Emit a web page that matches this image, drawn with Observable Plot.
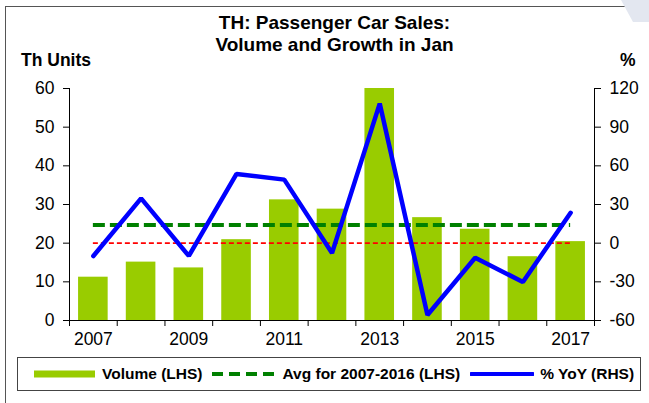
<!DOCTYPE html>
<html>
<head>
<meta charset="utf-8">
<script src="https://cdn.jsdelivr.net/npm/d3@7"></script>
<script src="https://cdn.jsdelivr.net/npm/@observablehq/plot@0.6"></script>
<style>
  html, body { margin: 0; padding: 0; background: #fff; }
  body { width: 649px; height: 403px; overflow: hidden; font-family: "Liberation Sans", Arial, sans-serif; }
  #wrap { position: relative; width: 649px; height: 403px; }
  #wrap svg.chart { position: absolute; left: 0; top: 0; }
  .frame { position: absolute; left: 5px; top: 6px; width: 660px; height: 420px; border-left: 1.5px solid #555; border-top: 1.5px solid #555; }
  .corner { position: absolute; right: 0; top: 0; width: 40px; height: 22px; background: #e3e7f0; clip-path: polygon(30% 0, 100% 0, 100% 100%, 60% 100%); }
  .title { position: absolute; left: 0; width: 649px; top: 12px; text-align: center; font-weight: bold; font-size: 19px; line-height: 22px; color: #000; padding-left: 20px; box-sizing: border-box; }
  .lab { position: absolute; font-weight: bold; font-size: 17.5px; color: #000; }
  .legend { position: absolute; left: 17px; top: 357px; width: 624px; height: 34px; border: 1.5px solid #444; box-sizing: border-box; display: flex; align-items: center; font-weight: bold; font-size: 15.5px; color: #000; }
  .legend .item { display: flex; align-items: center; }
  .legend svg { display: block; }
</style>
</head>
<body>
<div id="wrap">
  <div class="frame"></div>
  <div class="corner"></div>
  <div class="title">TH: Passenger Car Sales:<br>Volume and Growth in Jan</div>
  <div class="lab" style="left:21px; top:50px;">Th Units</div>
  <div class="lab" style="left:620px; top:50px;">%</div>
  <div class="legend" id="legend"></div>
</div>
<script>
// ---- data ----
const years = [2007, 2008, 2009, 2010, 2011, 2012, 2013, 2014, 2015, 2016, 2017];
const volume = [11.2, 15.1, 13.6, 20.9, 31.2, 28.8, 60.0, 26.6, 23.6, 16.5, 20.4];
const yoy = [-10.0, 34.8, -9.9, 53.7, 49.3, -7.7, 108.3, -55.7, -11.3, -30.1, 23.6];
const avgLevel = [24.7];
const leftTicks = [0, 10, 20, 30, 40, 50, 60];
const rightTicks = [-60, -30, 0, 30, 60, 90, 120];
const labelYears = [2007, 2009, 2011, 2013, 2015, 2017];
const legendLabels = ["Volume (LHS)", "Avg for 2007-2016 (LHS)", "% YoY (RHS)"];

// right axis (-60..120) mapped onto left axis (0..60)
const toLeft = v => (v + 60) / 3;
const data = years.map((year, i) => ({year, vol: volume[i], yoy: yoy[i]}));
const x0 = years[0] - 0.5, x1 = years[years.length - 1] + 0.5;
const bounds = d3.range(x0, x1 + 0.01, 1);
const half = 0.31;

const chart = Plot.plot({
  width: 649,
  height: 403,
  marginLeft: 69,
  marginRight: 55,
  marginTop: 88,
  marginBottom: 83,
  style: {fontFamily: "'Liberation Sans', Arial, sans-serif", fontSize: "17.5px", color: "#000", background: "transparent"},
  x: {type: "linear", domain: [x0, x1]},
  y: {domain: [0, 60]},
  marks: [
    Plot.rectY(data, {x1: d => d.year - half, x2: d => d.year + half, y1: 0, y2: "vol", fill: "#99cc00"}),
    Plot.ruleY([toLeft(0)], {x1: years[0], x2: years[years.length - 1], stroke: "#ff0000", strokeWidth: 1.7, strokeDasharray: "5,3"}),
    Plot.ruleY(avgLevel, {x1: years[0], x2: years[years.length - 1], stroke: "#008000", strokeWidth: 4, strokeDasharray: "12,5"}),
    Plot.line(data, {x: "year", y: d => toLeft(d.yoy), stroke: "#0000ff", strokeWidth: 4.5, strokeLinejoin: "miter"}),
    Plot.ruleX([x0, x1], {y1: 0, y2: 60, stroke: "#000", strokeWidth: 1}),
    Plot.ruleY([0], {x1: x0, x2: x1, stroke: "#000", strokeWidth: 1}),
    Plot.axisY({anchor: "left", ticks: leftTicks, tickSize: 6, tickPadding: 9, label: null, tickFormat: d => String(d)}),
    Plot.axisY({anchor: "right", ticks: rightTicks.map(toLeft), tickSize: 6, tickPadding: 9, label: null, tickFormat: d => String(Math.round(d * 3 - 60))}),
    Plot.axisX({ticks: bounds, tickSize: 6, tickFormat: () => "", label: null}),
    Plot.axisX({ticks: labelYears, tickSize: 0, tickPadding: 12, label: null, tickFormat: d => String(d)})
  ]
});
chart.classList.add("chart");
document.getElementById("wrap").insertBefore(chart, document.querySelector(".title"));

// ---- legend ----
const legend = document.getElementById("legend");
const sw = [
  `<svg width="62" height="10"><rect x="0" y="1.5" width="61" height="7" fill="#99cc00"/></svg>`,
  `<svg width="64" height="10"><line x1="0" x2="64" y1="5" y2="5" stroke="#008000" stroke-width="4" stroke-dasharray="11,6"/></svg>`,
  `<svg width="64" height="10"><line x1="1" x2="63" y1="5" y2="5" stroke="#0000ff" stroke-width="4" stroke-linecap="round"/></svg>`
];
const pads = [16, 10, 10];
legendLabels.forEach((t, i) => {
  const it = document.createElement("div");
  it.className = "item";
  it.style.marginLeft = pads[i] + "px";
  it.innerHTML = sw[i] + `<span style="margin-left:6px">${t}</span>`;
  legend.appendChild(it);
});
</script>
</body>
</html>
